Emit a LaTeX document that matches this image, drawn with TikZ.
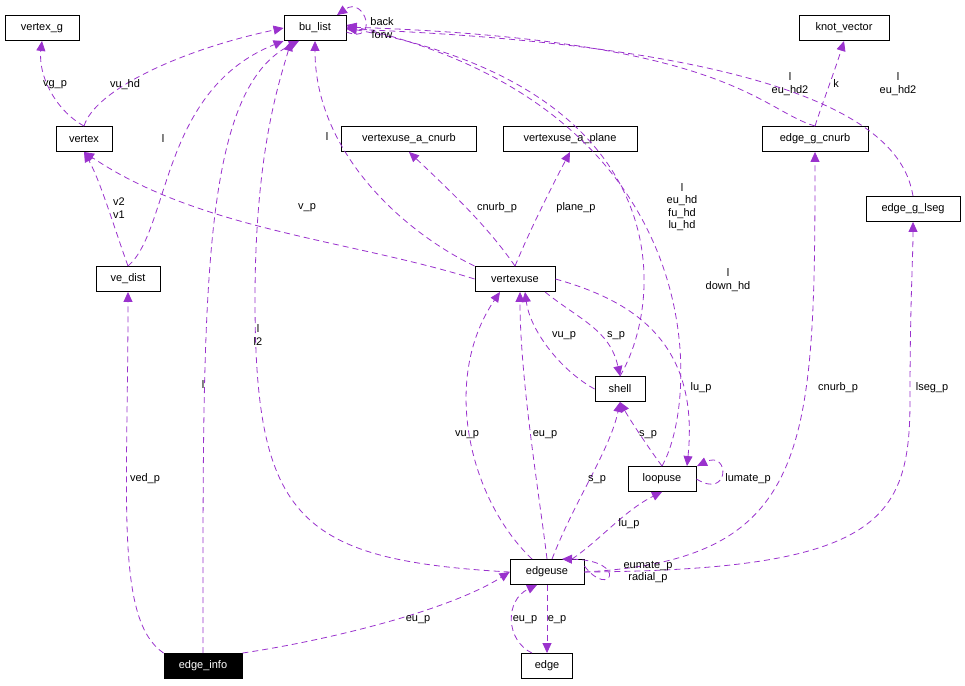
\documentclass[tikz,border=0pt]{standalone}
\usepackage{fontspec}
\setmainfont{Liberation Sans}
\usetikzlibrary{arrows.meta}
\definecolor{ed}{HTML}{9A32CD}
\begin{document}
\begin{tikzpicture}[x=1pt,y=-1pt,
 box/.style={draw,line width=0.9pt,minimum height=25pt,inner sep=0pt,font=\fontsize{11}{12}\selectfont},
 e/.style={draw=ed,line width=0.8pt,dash pattern=on 6pt off 4pt,-{Triangle[length=10pt,width=9pt,fill=ed]},color=ed},
 lb/.style={font=\fontsize{11}{12.5}\selectfont,text=black,align=center,inner sep=0pt}]
\useasboundingbox (0,0) rectangle (965,685);
\node[box,minimum width=62pt] (bu) at (315,28) {bu\_list};
\node[box,minimum width=74pt] (vg) at (42,28) {vertex\_g};
\node[box,minimum width=90pt] (kv) at (844,28) {knot\_vector};
\node[box,minimum width=56pt] (vx) at (84,139) {vertex};
\node[box,minimum width=135pt] (vac) at (409,139) {vertexuse\_a\_cnurb};
\node[box,minimum width=134pt] (vap) at (570,139) {vertexuse\_a\_plane};
\node[box,minimum width=106pt] (egc) at (815,139) {edge\_g\_cnurb};
\node[box,minimum width=94pt] (egl) at (913,209) {edge\_g\_lseg};
\node[box,minimum width=64pt] (ved) at (128,279) {ve\_dist};
\node[box,minimum width=80pt] (vu) at (515,279) {vertexuse};
\node[box,minimum width=50pt] (sh) at (620,389) {shell};
\node[box,minimum width=68pt] (lu) at (662,479) {loopuse};
\node[box,minimum width=74pt] (eu) at (547,572) {edgeuse};
\node[box,minimum width=51pt] (ed) at (547,666) {edge};
\node[box,minimum width=78pt,fill=black,text=white] (ei) at (203,666) {edge\_info};

\draw[e] (vx.north) .. controls (55,110) and (38,75) .. (vg.south);
\node[lb] (l1) at (55,85) {vg\_p};
\draw[e] (vx.north) .. controls (95,90) and (180,50) .. (bu.west);
\node[lb] (l2) at (125,85) {vu\_hd};
\draw[e] (ved.north) .. controls (170,230) and (160,90) .. (bu.south west);
\node[lb] (l3) at (163,139) {l};
\draw[e] (ved.north) .. controls (115,230) and (100,180) .. (vx.south);
\node[lb] (l4) at (119,208) {v2\\v1};
\draw[e] (ei.north) .. controls (203,300) and (200,90) .. ([xshift=-16pt]bu.south);
\node[lb] (l5) at (203,385) {l};
\draw[e] (ei.north west) .. controls (115,620) and (128,500) .. (ved.south);
\node[lb] (l6) at (145,479) {ved\_p};
\draw[e] (ei.north east) .. controls (330,640) and (450,610) .. (eu.west);
\node[lb] (l7) at (418,620) {eu\_p};
\draw[e] (eu.west) .. controls (300,560) and (255,520) .. (255,300) .. controls (255,150) and (280,80) .. ([xshift=-24pt]bu.south);
\node[lb] (l8) at (258,335) {l\\l2};
\draw[e] (vu.north west) .. controls (400,230) and (315,150) .. (bu.south);
\node[lb] (l9) at (327,137) {l};
\draw[e] (vu.west) .. controls (350,240) and (200,230) .. (vx.south);
\node[lb] (l10) at (307,208) {v\_p};
\draw[e] (vu.north) .. controls (490,230) and (460,200) .. (vac.south);
\node[lb] (l11) at (497,208) {cnurb\_p};
\draw[e] (vu.north) .. controls (530,230) and (550,190) .. (vap.south);
\node[lb] (l12) at (576,208) {plane\_p};
\draw[e] (sh.north) .. controls (665,300) and (680,90) .. (bu.east);
\node[lb] (l13) at (682,207) {l\\eu\_hd\\fu\_hd\\lu\_hd};
\draw[e] (lu.north) .. controls (700,400) and (715,110) .. ([yshift=3pt]bu.east);
\node[lb] (l14) at (728,280) {l\\down\_hd};
\draw[e] (egc.north) .. controls (760,110) and (730,40) .. ([yshift=1pt]bu.east);
\node[lb] (l15) at (790,84) {l\\eu\_hd2};
\draw[e] (egl.north) .. controls (905,150) and (860,50) .. ([yshift=-1pt]bu.east);
\node[lb] (l16) at (898,84) {l\\eu\_hd2};
\draw[e] ([yshift=-4pt]bu.east) .. controls (380,45) and (365,-5) .. ([xshift=22pt]bu.north);
\node[lb] (bf) at (382,28) {back\\forw};
\draw[e] (egc.north) .. controls (820,110) and (835,70) .. (kv.south);
\node[lb] (l17) at (836,84) {k};

\draw[e] (sh.west) .. controls (560,370) and (530,330) .. ([xshift=10pt]vu.south);
\node[lb] (l18) at (564,336) {vu\_p};
\draw[e] ([xshift=30pt]vu.south) .. controls (580,320) and (610,330) .. (sh.north);
\node[lb] (l19) at (616,336) {s\_p};
\draw[e] (lu.north) .. controls (650,450) and (630,420) .. (sh.south);
\node[lb] (l20) at (648,435) {s\_p};
\draw[e] (vu.east) .. controls (630,300) and (700,340) .. ([xshift=25pt]lu.north);
\node[lb] (l21) at (701,388) {lu\_p};
\draw[e] (lu.east) .. controls (730,500) and (730,450) .. ([xshift=35pt]lu.north);
\node[lb] (l22) at (748,479) {lumate\_p};

\draw[e] ([xshift=-15pt]eu.north) .. controls (470,500) and (440,380) .. ([xshift=-15pt]vu.south);
\node[lb] (l23) at (467,435) {vu\_p};
\draw[e] (eu.north) .. controls (540,500) and (520,380) .. ([xshift=5pt]vu.south);
\node[lb] (l24) at (545,435) {eu\_p};
\draw[e] ([xshift=5pt]eu.north) .. controls (575,500) and (610,450) .. (sh.south);
\node[lb] (l25) at (597,480) {s\_p};
\draw[e] ([xshift=25pt]eu.north) .. controls (600,540) and (625,510) .. (lu.south);
\node[lb] (l26) at (629,524) {lu\_p};
\draw[e] (eu.east) .. controls (810,560) and (815,450) .. (egc.south);
\node[lb] (l27) at (838,388) {cnurb\_p};
\draw[e] (eu.east) .. controls (880,570) and (910,520) .. (910,400) .. controls (910,300) and (913,260) .. (egl.south);
\node[lb] (l28) at (932,388) {lseg\_p};
\draw[e] ([yshift=6pt]eu.east) .. controls (610,600) and (630,560) .. ([xshift=15pt]eu.north);
\node[lb] (erp) at (648,572) {eumate\_p\\radial\_p};
\draw[e] (eu.south) -- (ed.north);
\node[lb] (l29) at (557,620) {e\_p};
\draw[e] ([xshift=-15pt]ed.north) .. controls (505,640) and (505,600) .. ([xshift=-10pt]eu.south);
\node[lb] (l30) at (525,620) {eu\_p};
\end{tikzpicture}
\end{document}
